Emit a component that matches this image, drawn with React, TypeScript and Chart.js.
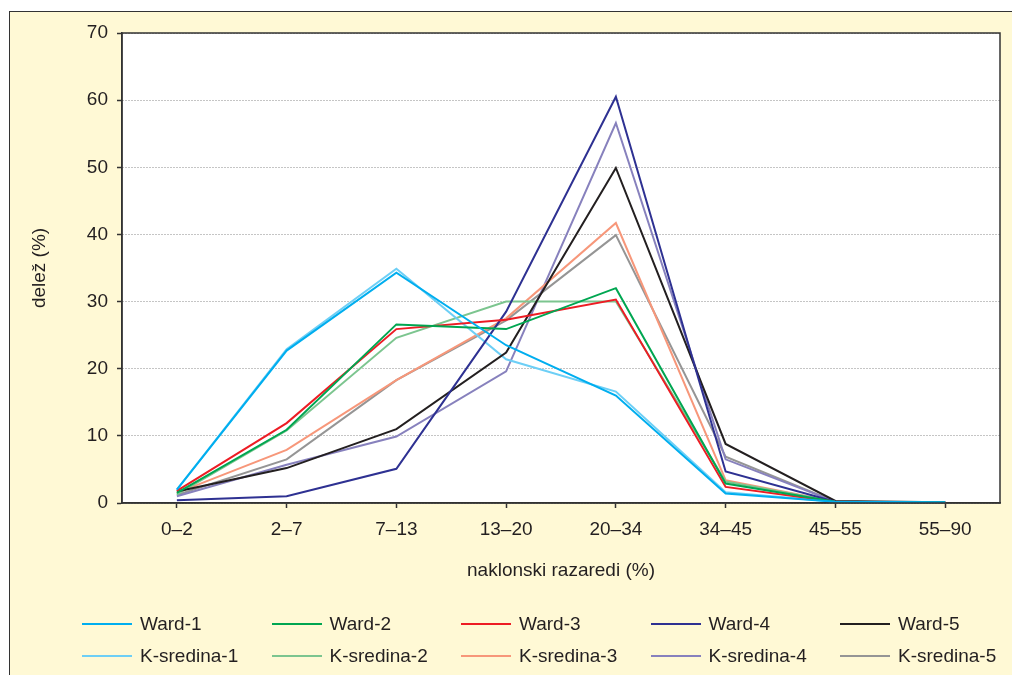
import React, { useEffect, useRef } from 'react';
import { Chart, registerables } from 'chart.js';

Chart.register(...registerables);

// ---- data ----
const categories = ['0–2', '2–7', '7–13', '13–20', '20–34', '34–45', '45–55', '55–90'];

const ward1 = [2.0, 22.7, 34.3, 23.5, 16.0, 1.4, 0.2, 0.1];
const ward2 = [1.5, 10.9, 26.6, 25.9, 32.0, 2.9, 0.2, 0.1];
const ward3 = [1.8, 11.9, 25.9, 27.3, 30.3, 2.4, 0.2, 0.1];
const ward4 = [0.4, 1.0, 5.1, 28.5, 60.5, 4.7, 0.2, 0.1];
const ward5 = [1.7, 5.2, 11.0, 22.4, 49.9, 8.8, 0.3, 0.1];
const ksredina1 = [2.0, 22.9, 34.9, 21.4, 16.6, 1.6, 0.2, 0.1];
const ksredina2 = [1.3, 10.8, 24.6, 30.0, 30.0, 3.2, 0.2, 0.1];
const ksredina3 = [1.5, 7.9, 18.3, 27.5, 41.7, 3.4, 0.2, 0.1];
const ksredina4 = [1.0, 5.7, 9.9, 19.6, 56.6, 6.5, 0.2, 0.1];
const ksredina5 = [1.2, 6.5, 18.3, 27.2, 39.9, 6.9, 0.2, 0.1];

const seriesNames = [
  'Ward-1', 'Ward-2', 'Ward-3', 'Ward-4', 'Ward-5',
  'K-sredina-1', 'K-sredina-2', 'K-sredina-3', 'K-sredina-4', 'K-sredina-5',
];
const seriesValues = [ward1, ward2, ward3, ward4, ward5, ksredina1, ksredina2, ksredina3, ksredina4, ksredina5];
const seriesColors = [
  '#00AEEF', '#00A651', '#ED1C24', '#2E3192', '#231F20',
  '#6DCFF6', '#7CC58F', '#F7977A', '#8781BD', '#959595',
];

const yTitle = 'delež (%)';
const xTitle = 'naklonski razaredi (%)';

// ---- styles ----
const FONT = '"Liberation Sans", Arial, Helvetica, sans-serif';
const TEXT = '#231F20';
const CREAM = '#FFF9D5';
const DARK = '#333333';

const plotPlugin = {
  id: 'plotFrame',
  beforeDraw(chart: any) {
    const { ctx, chartArea: a } = chart;
    ctx.save();
    ctx.fillStyle = '#ffffff';
    ctx.fillRect(a.left, a.top, a.right - a.left, a.bottom - a.top);
    ctx.restore();
  },
  afterDraw(chart: any) {
    const { ctx, chartArea: a } = chart;
    ctx.save();
    ctx.strokeStyle = DARK;
    ctx.lineWidth = 1.5;
    ctx.strokeRect(a.left, a.top, a.right - a.left, a.bottom - a.top);
    ctx.restore();
  },
};

export default function App() {
  const ref = useRef<HTMLCanvasElement>(null);

  useEffect(() => {
    if (!ref.current) return;
    const font = { family: FONT, size: 19 };
    const chart = new Chart(ref.current, {
      type: 'line',
      data: {
        labels: categories,
        datasets: seriesValues.map((d, i) => ({
          label: seriesNames[i],
          data: d,
          borderColor: seriesColors[i],
          backgroundColor: seriesColors[i],
          borderWidth: 2,
          pointRadius: 0,
          pointHoverRadius: 0,
          tension: 0,
          fill: false,
        })),
      },
      options: {
        responsive: false,
        animation: false,
        events: [],
        layout: { padding: { left: 0, top: 33, right: 12, bottom: 92 } },
        plugins: {
          legend: { display: false },
          tooltip: { enabled: false },
        },
        scales: {
          x: {
            type: 'category',
            offset: true,
            grid: {
              offset: false,
              drawOnChartArea: false,
              drawTicks: true,
              tickLength: 5,
              tickColor: DARK,
              tickWidth: 1.5,
            },
            border: { display: true, color: DARK, width: 1.5 },
            ticks: { font, color: TEXT, padding: 10, maxRotation: 0, autoSkip: false },
            title: { display: true, text: xTitle, font, color: TEXT, padding: { top: 0, bottom: 1 } },
            afterFit: (s: any) => {
              s.height = 80;
            },
          },
          y: {
            min: 0,
            max: 70,
            ticks: { stepSize: 10, font, color: TEXT, padding: 9 },
            grid: {
              color: '#8a8a8a',
              lineWidth: 1,
              drawTicks: true,
              tickLength: 5,
              tickColor: DARK,
              tickWidth: 1.5,
              tickBorderDash: [],
            },
            border: { display: true, color: DARK, width: 1.5, dash: [1, 2] },
            title: { display: true, text: yTitle, font, color: TEXT, padding: { top: 28.6, bottom: 0 } },
            afterFit: (s: any) => {
              s.width = 122;
            },
          },
        },
      },
      plugins: [plotPlugin],
    } as any);
    return () => chart.destroy();
  }, []);

  const colStart = 82;
  const colStep = 189.5;
  const rowY = [624, 656];

  return (
    <div
      style={{
        position: 'absolute',
        left: 0,
        top: 0,
        width: 1012,
        height: 675,
        overflow: 'hidden',
        background: '#ffffff',
        fontFamily: FONT,
      }}
    >
      <div
        style={{
          position: 'absolute',
          left: 9,
          top: 10.5,
          width: 1030,
          height: 700,
          background: CREAM,
          border: `1.5px solid ${DARK}`,
        }}
      />
      <canvas
        ref={ref}
        width={1012}
        height={675}
        style={{ position: 'absolute', left: 0, top: 0, display: 'block' }}
      />
      {seriesNames.map((name, i) => {
        const col = i % 5;
        const row = Math.floor(i / 5);
        const x = colStart + col * colStep;
        const y = rowY[row];
        return (
          <React.Fragment key={name}>
            <div
              style={{
                position: 'absolute',
                left: x,
                top: y - 1,
                width: 50,
                height: 2,
                background: seriesColors[i],
              }}
            />
            <div
              style={{
                position: 'absolute',
                left: x + 58,
                top: y - 11,
                height: 22,
                lineHeight: '22px',
                fontSize: 19,
                color: TEXT,
                whiteSpace: 'nowrap',
              }}
            >
              {name}
            </div>
          </React.Fragment>
        );
      })}
    </div>
  );
}
